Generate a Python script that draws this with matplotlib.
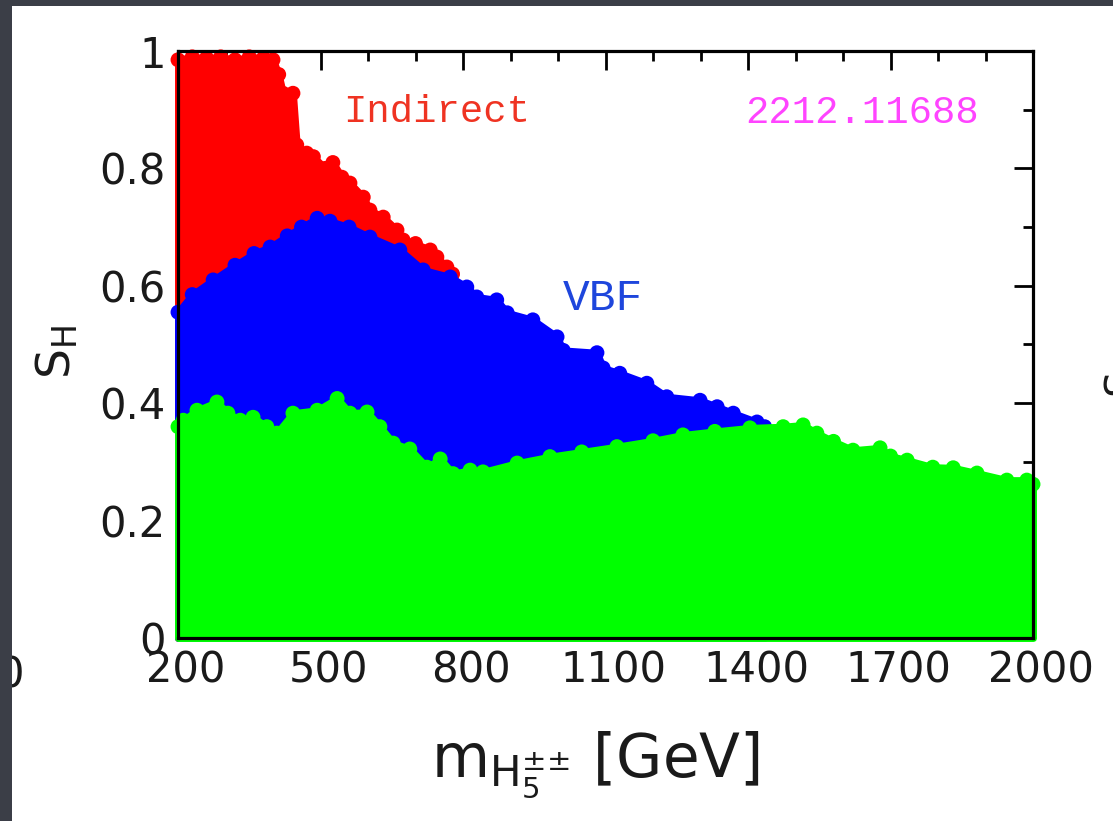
import matplotlib
matplotlib.use('Agg')
import matplotlib.pyplot as plt
from matplotlib.patches import Rectangle
from matplotlib.ticker import FixedLocator, MultipleLocator
import matplotlib.transforms as mtransforms

# ---------------- data ----------------
# upper envelope of the "Indirect" (red) points
red_x = [200, 230, 260, 290, 320, 350, 380, 400, 412, 421, 442, 450, 471, 485, 510, 526,
         545, 562, 590, 604, 632, 661, 674, 700, 731, 745, 766, 778]
red_top = [0.985, 0.990, 0.988, 0.990, 0.985, 0.990, 0.988, 0.985, 0.960, 0.928, 0.928, 0.840,
           0.826, 0.820, 0.800, 0.810, 0.785, 0.775, 0.751, 0.729, 0.717, 0.695, 0.678, 0.672,
           0.661, 0.649, 0.632, 0.620]

# upper envelope of the "VBF" (blue) points
blue_x = [200, 230, 274, 320, 360, 394, 430, 460, 493, 520, 560, 604, 667, 716, 773, 808,
          829, 871, 893, 947, 998, 1011, 1082, 1095, 1130, 1187, 1229, 1299, 1335, 1369,
          1419, 1435]
blue_top = [0.555, 0.585, 0.610, 0.635, 0.655, 0.666, 0.685, 0.700, 0.715, 0.710, 0.700,
            0.683, 0.661, 0.627, 0.615, 0.598, 0.581, 0.576, 0.554, 0.542, 0.513, 0.490,
            0.486, 0.460, 0.451, 0.434, 0.411, 0.405, 0.394, 0.383, 0.368, 0.360]

# upper envelope of the remaining (green) points
green_x = [200, 211, 240, 282, 305, 331, 358, 387, 408, 442, 493, 535, 562, 598, 625, 653,
           688, 724, 752, 779, 815, 842, 914, 983, 1050, 1124, 1200, 1263, 1330, 1404, 1474,
           1516, 1545, 1580, 1621, 1678, 1700, 1735, 1789, 1832, 1882, 1945, 1987, 2000]
green_top = [0.360, 0.371, 0.388, 0.402, 0.383, 0.371, 0.376, 0.360, 0.349, 0.383, 0.388,
             0.408, 0.383, 0.385, 0.360, 0.332, 0.322, 0.291, 0.305, 0.280, 0.286, 0.283,
             0.298, 0.309, 0.317, 0.326, 0.336, 0.346, 0.352, 0.358, 0.360, 0.363, 0.349,
             0.335, 0.320, 0.324, 0.310, 0.303, 0.291, 0.290, 0.281, 0.269, 0.269, 0.262]

x_major = [200, 500, 800, 1100, 1400, 1700, 2000]
x_major_labels = ['200', '500', '800', '1100', '1400', '1700', '2000']
y_major = [0, 0.2, 0.4, 0.6, 0.8, 1.0]
y_major_labels = ['0', '0.2', '0.4', '0.6', '0.8', '1']

# ---------------- figure ----------------
W, H = 1113, 821
fig = plt.figure(figsize=(W / 100, H / 100), dpi=100, facecolor='#3b3e47')
panel = Rectangle((12 / W, 0), 1.0, 1 - 6 / H, transform=fig.transFigure,
                  facecolor='white', edgecolor='none', zorder=-10)
fig.patches.append(panel)


def P(x, y):
    return x / W, 1 - y / H


ax = fig.add_axes([178 / W, 1 - 638 / H, 855 / W, 587 / H])
ax.set_zorder(1)
ax.set_facecolor('white')


def region(xs, ys, color, z):
    pc = ax.fill_between(xs, 0, ys, facecolor=color, edgecolor=color, linewidth=5,
                         zorder=z, clip_on=False)
    pc.set_joinstyle('round')
    ax.scatter(xs, ys, s=115, color=color, edgecolors='none', zorder=z + 0.1, clip_on=False)


region(red_x, red_top, '#ff0000', 1)
region(blue_x, blue_top, '#0000ff', 2)
region(green_x, green_top, '#00ff00', 3)

ax.set_xlim(200, 2000)
ax.set_ylim(0, 1)
ax.set_axisbelow(True)

ax.xaxis.set_major_locator(FixedLocator(x_major))
ax.xaxis.set_minor_locator(MultipleLocator(100))
ax.yaxis.set_major_locator(FixedLocator(y_major))
ax.yaxis.set_minor_locator(MultipleLocator(0.1))
ax.set_xticklabels(x_major_labels)
ax.set_yticklabels(y_major_labels)

ax.tick_params(which='both', direction='in', top=True, right=True, colors='black',
               labelcolor='#1a1a1a', labelsize=30)
ax.tick_params(which='major', length=14, width=2)
ax.tick_params(which='minor', length=7, width=2)
ax.tick_params(axis='x', which='major', pad=8)
ax.tick_params(axis='y', which='major', pad=9)

shift = mtransforms.ScaledTranslation(8 / 100, 0, fig.dpi_scale_trans)
for lab in ax.get_xticklabels():
    lab.set_transform(lab.get_transform() + shift)

for sp in ax.spines.values():
    sp.set_linewidth(2.3)
    sp.set_color('black')
    sp.set_zorder(10)

# axis titles
fig.text(*P(57, 352), r'$\mathregular{S_H}$', rotation=90, ha='center', va='center',
         fontsize=34, color='#1a1a1a')
fig.text(*P(595, 765), r'$\mathregular{m_{H_5^{{\pm}{\pm}}}}$ [GeV]', ha='center',
         va='center', fontsize=43, color='#1a1a1a')

# annotations
fig.text(*P(437, 112), 'Indirect', ha='center', va='center', fontsize=28,
         family='Liberation Mono', color='#ef3322')
fig.text(*P(603, 298), 'VBF', ha='center', va='center', fontsize=32,
         family='Liberation Mono', color='#1e46dc')
fig.text(*P(862, 113), '2212.11688', ha='center', va='center', fontsize=28,
         family='Liberation Mono', color='#ff44ff')

# fragments of neighbouring slide content, cut by the panel edges
t0 = fig.text(*P(11, 675), '0', ha='center', va='center', fontsize=30, color='#1a1a1a')
t0.set_clip_path(panel)
fig.text(*P(1122, 382), 'S', rotation=90, ha='center', va='center', fontsize=30,
         color='#1a1a1a')

fig.savefig('out.png', dpi=100, facecolor=fig.get_facecolor())
